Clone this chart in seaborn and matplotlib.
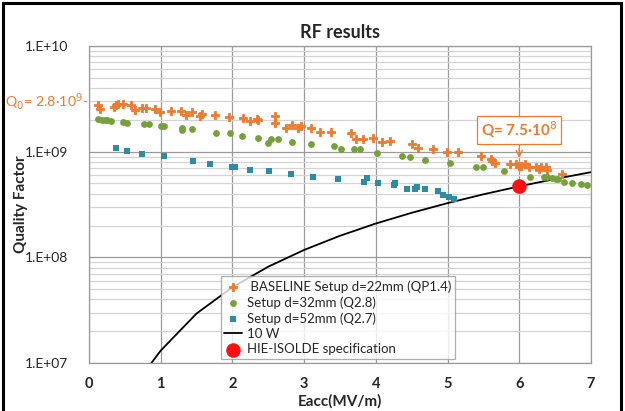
import matplotlib
matplotlib.use("Agg")
import matplotlib.pyplot as plt
import matplotlib.patches as patches
import numpy as np
import pandas as pd
import seaborn as sns

# BASELINE Setup d=22mm (QP1.4)
base_e = [0.12, 0.15, 0.35, 0.38, 0.40, 0.47, 0.59, 0.64, 0.74, 0.80, 0.92, 0.99,
          1.15, 1.28, 1.35, 1.43, 1.55, 1.57, 1.76, 1.95, 2.15, 2.24, 2.34, 2.36,
          2.60, 2.60, 2.75, 2.83, 2.92, 2.96, 3.09, 3.22, 3.37, 3.65, 3.73, 3.82,
          3.96, 4.09, 4.20, 4.51, 4.59, 4.80, 4.99, 5.14, 5.46, 5.60, 5.62, 5.66,
          5.87, 5.95, 5.99, 6.02, 6.08, 6.14, 6.23, 6.28, 6.30, 6.37, 6.38, 6.60]
base_q = [2.75e9, 2.55e9, 2.63e9, 2.75e9, 2.8e9, 2.8e9, 2.75e9, 2.5e9, 2.6e9, 2.6e9, 2.54e9, 2.39e9,
          2.44e9, 2.44e9, 2.24e9, 2.39e9, 2.18e9, 2.28e9, 2.22e9, 2.15e9, 2.08e9, 1.95e9, 2.02e9, 2.0e9,
          2.2e9, 1.88e9, 1.69e9, 1.79e9, 1.67e9, 1.76e9, 1.67e9, 1.53e9, 1.55e9, 1.51e9, 1.32e9, 1.31e9,
          1.36e9, 1.23e9, 1.27e9, 1.18e9, 1.09e9, 1.07e9, 0.99e9, 0.99e9, 0.91e9, 0.85e9, 0.82e9, 0.79e9,
          0.76e9, 0.76e9, 0.73e9, 0.73e9, 0.76e9, 0.71e9, 0.71e9, 0.68e9, 0.71e9, 0.71e9, 0.67e9, 0.62e9]

# Setup d=32mm (Q2.8)
d32_e = [0.13, 0.18, 0.22, 0.25, 0.30, 0.48, 0.53, 0.76, 0.84, 1.01, 1.04, 1.29,
         1.30, 1.44, 1.77, 1.96, 2.13, 2.35, 2.50, 2.54, 2.63, 2.83, 3.09, 3.42,
         3.51, 3.69, 3.78, 4.01, 4.37, 4.47, 4.68, 5.04, 5.39, 5.50, 5.79, 6.15,
         6.34, 6.39, 6.45, 6.51, 6.54, 6.63, 6.74, 6.86, 6.95]
d32_q = [2.03e9, 2.0e9, 2.0e9, 1.99e9, 1.97e9, 1.91e9, 1.88e9, 1.84e9, 1.82e9, 1.75e9, 1.75e9, 1.67e9,
         1.60e9, 1.64e9, 1.49e9, 1.49e9, 1.41e9, 1.35e9, 1.22e9, 1.32e9, 1.32e9, 1.23e9, 1.17e9, 1.14e9,
         1.07e9, 1.05e9, 1.06e9, 0.97e9, 0.92e9, 0.90e9, 0.83e9, 0.79e9, 0.72e9, 0.72e9, 0.66e9, 0.58e9,
         0.57e9, 0.57e9, 0.56e9, 0.55e9, 0.55e9, 0.52e9, 0.51e9, 0.49e9, 0.48e9]

# Setup d=52mm (Q2.7)
d52_e = [0.37, 0.53, 0.74, 1.04, 1.45, 1.69, 2.00, 2.03, 2.25, 2.51, 2.81, 3.12,
         3.47, 3.84, 3.87, 4.03, 4.25, 4.27, 4.44, 4.55, 4.57, 4.68, 4.86, 4.93,
         5.02, 5.09]
d52_q = [1.08e9, 1.02e9, 0.95e9, 0.91e9, 0.81e9, 0.76e9, 0.72e9, 0.72e9, 0.67e9, 0.65e9, 0.62e9, 0.58e9,
         0.55e9, 0.52e9, 0.56e9, 0.50e9, 0.48e9, 0.50e9, 0.44e9, 0.44e9, 0.46e9, 0.44e9, 0.42e9, 0.39e9,
         0.375e9, 0.36e9]

# 10 W curve
w10_e = [0.87, 1.0, 1.5, 2.0, 2.5, 3.0, 3.5, 4.0, 4.5, 5.0, 5.5, 6.0, 6.5, 7.0]
w10_q = [1.0e7, 1.31e7, 2.94e7, 5.22e7, 8.16e7, 1.175e8, 1.60e8, 2.09e8, 2.64e8, 3.26e8,
         3.95e8, 4.70e8, 5.52e8, 6.40e8]

# HIE-ISOLDE specification
spec_e = [6.0]
spec_q = [4.7e8]

ORANGE = "#EE7A2E"
GREEN = "#76A03A"
BLUE = "#2E8BA6"
RED = "#FF1010"

sns.set_style("white")
plt.rcParams["font.family"] = ["Lato", "DejaVu Sans"]

fig = plt.figure(figsize=(6.25, 4.11), dpi=100)
ax = fig.add_axes([0.1424, 0.1168, 0.8032, 0.7712])

sns.scatterplot(x=base_e, y=base_q, marker="P", s=30, color=ORANGE, edgecolor=ORANGE,
                linewidth=0.6, ax=ax, label=" BASELINE Setup d=22mm (QP1.4)", zorder=3)
sns.scatterplot(x=d32_e, y=d32_q, marker="o", s=24, color=GREEN, linewidth=0,
                ax=ax, label="Setup d=32mm (Q2.8)", zorder=3)
sns.scatterplot(x=d52_e, y=d52_q, marker="s", s=18, color=BLUE, linewidth=0,
                ax=ax, label="Setup d=52mm (Q2.7)", zorder=3)
sns.lineplot(x=w10_e, y=w10_q, color="black", linewidth=1.3, ax=ax, label="10 W",
             zorder=2, sort=True)
sns.scatterplot(x=spec_e, y=spec_q, marker="o", s=110, color=RED, linewidth=0,
                ax=ax, label="HIE-ISOLDE specification", zorder=4)

ax.set_yscale("log")
ax.set_xlim(0, 7)
ax.set_ylim(1e7, 1e10)
ax.set_xticks(range(8))
ax.set_yticks([1e7, 1e8, 1e9, 1e10])
ax.set_yticklabels(["1.E+07", "1.E+08", "1.E+09", "1.E+10"])
ax.yaxis.set_minor_locator(matplotlib.ticker.LogLocator(base=10, subs=np.arange(2, 10)))
ax.yaxis.set_minor_formatter(matplotlib.ticker.NullFormatter())
ax.tick_params(axis="both", which="both", length=0)
ax.tick_params(axis="y", pad=15, labelsize=10)
ax.tick_params(axis="x", pad=10, labelsize=10.5)
for lbl in ax.get_xticklabels():
    lbl.set_fontweight("bold")

ax.grid(True, which="major", color="#9a9a9a", linewidth=0.9)
ax.grid(True, which="minor", axis="y", color="#d4d4d4", linewidth=0.9)
ax.set_axisbelow(True)
for sp in ax.spines.values():
    sp.set_color("#9a9a9a")
    sp.set_linewidth(0.9)

ax.set_xlabel("Eacc(MV/m)", fontweight="bold", fontsize=11, labelpad=2)
ax.set_ylabel("Quality Factor", fontweight="bold", fontsize=11)
ax.yaxis.set_label_coords(-0.122, 0.5)
ax.set_title("RF results", fontweight="bold", fontsize=13, pad=6)

leg = ax.legend(loc="lower left", bbox_to_anchor=(0.262, 0.012), frameon=True,
                fontsize=9.5, handlelength=1.3, handletextpad=0.4, borderpad=0.3,
                labelspacing=0.25, fancybox=False, borderaxespad=0)
leg.get_frame().set_edgecolor("#9a9a9a")
leg.get_frame().set_linewidth(0.9)

# Q0 label at the left of the axis
fig.text(0.141, 1 - 101 / 411, r"Q$_0$= 2.8·10$^9$-", color=ORANGE, fontsize=10.3,
         ha="right", va="center")

# Q at spec point
ax.annotate("Q= 7.5·10$^8$", xy=(6.0, 8.2e8), xytext=(6.0, 1.6e9),
            ha="center", va="center", color=ORANGE, fontsize=11, fontweight="bold",
            bbox=dict(boxstyle="square,pad=0.25", fc="white", ec=ORANGE, lw=0.9),
            arrowprops=dict(arrowstyle="->", color=ORANGE, lw=1.0))

# chart-area border
fig.patches.append(patches.Rectangle((0.005, -0.02), 0.988, 1.013, transform=fig.transFigure,
                                     fill=False, edgecolor="black", linewidth=2.2))

fig.savefig("out.png", dpi=100)
